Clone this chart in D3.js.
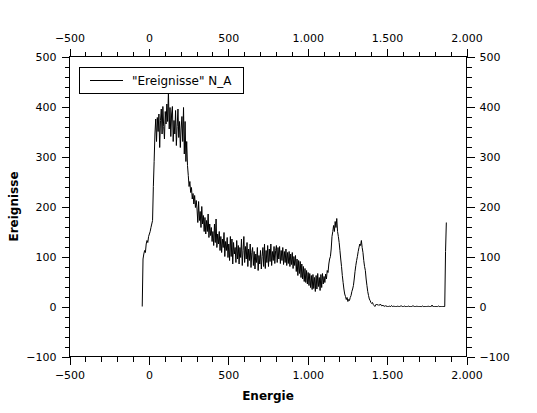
<!DOCTYPE html>
<html><head><meta charset="utf-8">
<script src="https://cdn.jsdelivr.net/npm/d3@7"></script>
<style>body{margin:0;background:#fff}svg{display:block}text{font-family:"DejaVu Sans",sans-serif}</style>
</head><body><svg id="c" width="537" height="413"></svg>
<script>
// Spectrum: bin centres start at binStart, spaced binWidth apart
const binStart = -42;
const binWidth = 5;
const counts = [
  // -42 .. 43
  0, 95, 105, 112, 108, 125, 132, 128, 140, 145, 150, 158, 165, 172, 240, 290, 345, 375,
  // 48 .. 248
  330, 378, 350, 385, 318, 372, 395, 345, 400, 360,
  335, 390, 365, 405, 370, 430, 355, 398, 340, 385,
  400, 330, 372, 345, 392, 322, 360, 395, 338, 370,
  318, 355, 380, 330, 398, 305, 370, 290, 330, 282,
  262,
  // 253 .. 1498
  240, 250, 228, 238, 215, 226, 205, 222, 198, 212,
  195, 168, 210, 172, 190, 158, 200, 165, 182, 150,
  178, 145, 172, 150, 185, 138, 165, 142, 158, 130,
  150, 122, 165, 128, 175, 118, 145, 125, 150, 112,
  140, 108, 135, 118, 148, 100, 130, 112, 138, 98,
  125, 92, 140, 100, 135, 85, 128, 105, 118, 88,
  132, 95, 122, 85, 118, 98, 135, 82, 112, 140,
  88, 120, 95, 128, 80, 115, 92, 125, 78, 108,
  118, 82, 110, 75, 105, 88, 118, 72, 102, 85,
  112, 75, 100, 118, 80, 125, 76, 112, 88, 122,
  80, 115, 90, 125, 82, 110, 92, 120, 86, 112,
  122, 88, 118, 95, 120, 86, 112, 92, 118, 84,
  110, 88, 115, 82, 108, 86, 110, 80, 105, 84,
  108, 76, 100, 82, 102, 70, 95, 62, 92, 66,
  90, 58, 85, 55, 80, 50, 76, 48, 72, 45,
  68, 42, 66, 38, 62, 34, 64, 36, 58, 30,
  62, 35, 66, 40, 58, 32, 64, 38, 66, 45,
  60, 48, 65, 55, 72, 68, 85, 95, 100, 115,
  140, 150, 162, 150, 170, 158, 176, 150, 140, 128,
  112, 95, 80, 62, 48, 35, 25, 20, 14, 18,
  10, 14, 12, 18, 22, 30, 35, 42, 55, 70,
  82, 92, 100, 110, 118, 125, 122, 132, 118, 108,
  92, 80, 72, 55, 42, 30, 22, 15, 12, 8,
  6, 8, 4, 2, 0, 3, 5, 3, 4, 2,
  3, 5, 2, 1, 3, 1, 0, 2, 0, 1,
  // 1503 .. 1873
  0, 0, 1, 0, 0, 2, 0, 0, 1, 0,
  0, 0, 0, 1, 0, 0, 0, 2, 0, 0,
  0, 1, 0, 0, 0, 0, 1, 0, 0, 0,
  0, 0, 2, 0, 0, 0, 0, 1, 0, 0,
  0, 0, 0, 0, 1, 0, 0, 0, 0, 0,
  0, 1, 0, 0, 0, 0, 3, 0, 0, 0,
  0, 0, 0, 0, 1, 0, 0, 0, 0, 0,
  0, 0, 0, 110, 168
];
const xMajorTicks = [-500, 0, 500, 1000, 1500, 2000];
const yMajorTicks = [-100, 0, 100, 200, 300, 400, 500];
const xDomain = [-500, 2000];
const yDomain = [-100, 500];
const seriesName = '"Ereignisse" N_A';
const xTitle = "Energie";
const yTitle = "Ereignisse";

const data = counts.map((v, i) => ({x: binStart + i * binWidth, y: v}));

const svg = d3.select("#c");
const L = 69.5, R = 466.5, T = 56.5, B = 356.5;
const x = d3.scaleLinear().domain(xDomain).range([L, R]);
const y = d3.scaleLinear().domain(yDomain).range([B, T]);

const loc = d3.formatLocale({decimal: ",", thousands: ".", grouping: [3], currency: ["", "€"], minus: "\u2212"});
const fmt = loc.format(",d");

const xMinor = d3.range(xDomain[0], xDomain[1] + 1, 100);
const yMinor = d3.range(yDomain[0], yDomain[1] + 1, 20);

function styleAxis(g) {
  g.select(".domain").remove();
  g.selectAll("line").attr("stroke", "#000").attr("shape-rendering", "crispEdges");
  g.selectAll("text").attr("fill", "#000").style("font-size", "11px");
}

// minor ticks
svg.append("g").attr("transform", `translate(0,${B})`).call(d3.axisBottom(x).tickValues(xMinor).tickSize(5).tickFormat("")).call(styleAxis);
svg.append("g").attr("transform", `translate(0,${T})`).call(d3.axisTop(x).tickValues(xMinor).tickSize(5).tickFormat("")).call(styleAxis);
svg.append("g").attr("transform", `translate(${L},0)`).call(d3.axisLeft(y).tickValues(yMinor).tickSize(5).tickFormat("")).call(styleAxis);
svg.append("g").attr("transform", `translate(${R},0)`).call(d3.axisRight(y).tickValues(yMinor).tickSize(5).tickFormat("")).call(styleAxis);
// major ticks
svg.append("g").attr("transform", `translate(0,${B})`).call(d3.axisBottom(x).tickValues(xMajorTicks).tickSize(8).tickPadding(7).tickFormat(fmt)).call(styleAxis);
svg.append("g").attr("transform", `translate(0,${T})`).call(d3.axisTop(x).tickValues(xMajorTicks).tickSize(8).tickPadding(7).tickFormat(fmt)).call(styleAxis);
svg.append("g").attr("transform", `translate(${L},0)`).call(d3.axisLeft(y).tickValues(yMajorTicks).tickSize(8).tickPadding(5).tickFormat(fmt)).call(styleAxis);
svg.append("g").attr("transform", `translate(${R},0)`).call(d3.axisRight(y).tickValues(yMajorTicks).tickSize(8).tickPadding(5).tickFormat(fmt)).call(styleAxis);

// frame
svg.append("rect").attr("x", L).attr("y", T).attr("width", R - L).attr("height", B - T)
  .attr("fill", "none").attr("stroke", "#000").attr("shape-rendering", "crispEdges");

// data line
const line = d3.line().x(d => x(d.x)).y(d => y(d.y));
svg.append("path").datum(data).attr("d", line).attr("fill", "none").attr("stroke", "#000").attr("stroke-width", 1);

// legend
const lg = svg.append("g");
lg.append("rect").attr("x", 79.5).attr("y", 67.5).attr("width", 164).attr("height", 26)
  .attr("fill", "#fff").attr("stroke", "#000").attr("shape-rendering", "crispEdges");
lg.append("line").attr("x1", 90).attr("x2", 123).attr("y1", 80.5).attr("y2", 80.5).attr("stroke", "#000");
lg.append("text").attr("x", 132).attr("y", 85).style("font-size", "12px").text(seriesName);

// titles
svg.append("text").attr("x", (L + R) / 2).attr("y", 400).attr("text-anchor", "middle")
  .style("font-size", "12px").style("font-weight", "bold").text(xTitle);
svg.append("text").attr("transform", `translate(18,${(T + B) / 2}) rotate(-90)`).attr("text-anchor", "middle")
  .style("font-size", "12px").style("font-weight", "bold").text(yTitle);
</script></body></html>
